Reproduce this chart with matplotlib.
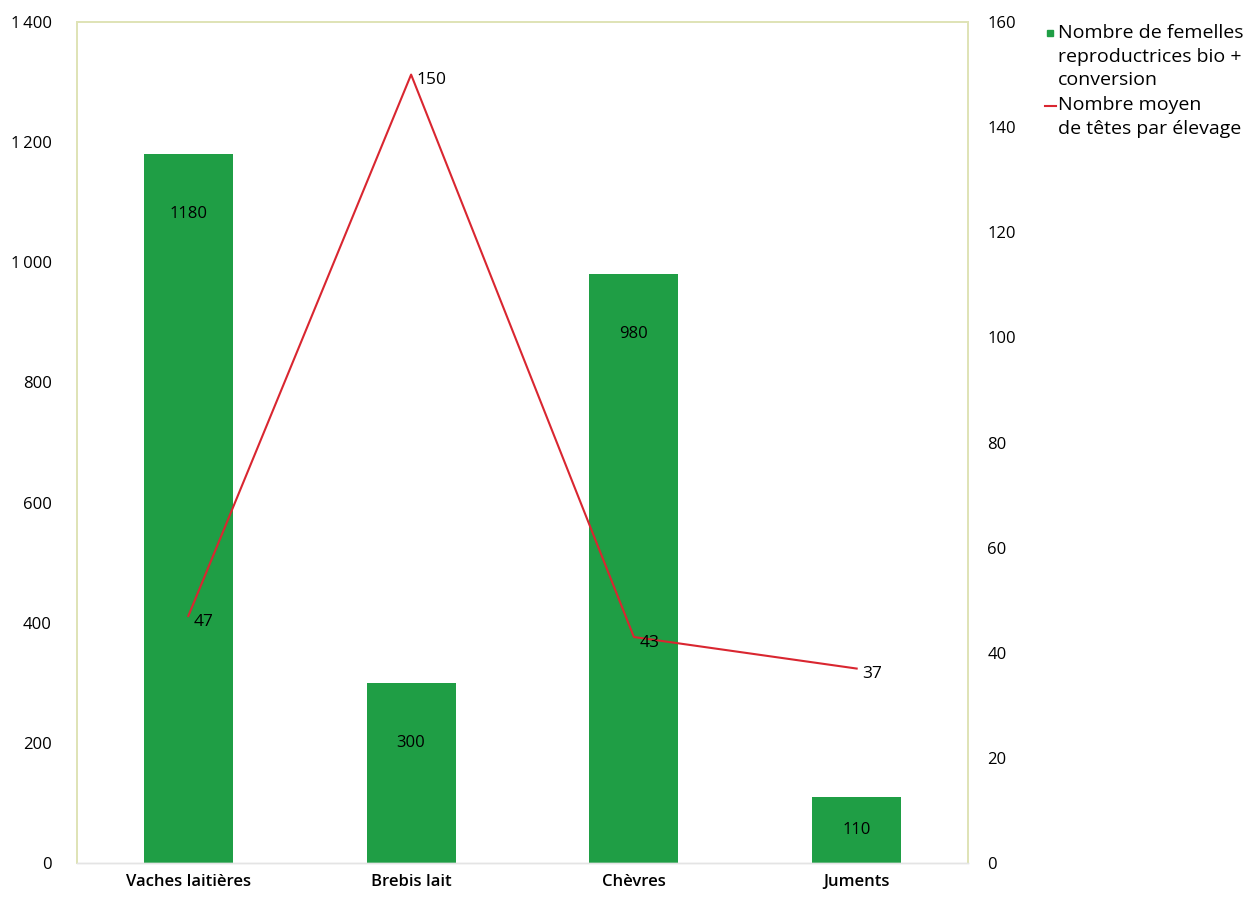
import matplotlib
matplotlib.use("Agg")
import matplotlib.pyplot as plt
from matplotlib.lines import Line2D

categories = ["Vaches laitières", "Brebis lait", "Chèvres", "Juments"]
femelles = [1180, 300, 980, 110]
moyenne = [47, 150, 43, 37]
left_ticks = [0, 200, 400, 600, 800, 1000, 1200, 1400]
left_labels = ["0", "200", "400", "600", "800", "1\u2009000", "1\u2009200", "1\u2009400"]
right_ticks = [0, 20, 40, 60, 80, 100, 120, 140, 160]

plt.rcParams['font.family'] = ['Open Sans', 'DejaVu Sans']

fig = plt.figure(figsize=(12.47, 8.99), dpi=100)
ax = fig.add_axes([0.0617, 0.04, 0.7146, 0.9355])
ax2 = ax.twinx()

x = list(range(len(categories)))
bar_color = '#1f9e45'
line_color = '#d92630'
frame = '#dfe3b5'

ax.bar(x, femelles, width=0.4, color=bar_color, zorder=2)
ax.set_xlim(-0.5, 3.5)
ax.set_ylim(0, 1400)
ax.set_yticks(left_ticks)
ax.set_yticklabels(left_labels)
ax.set_xticks(x)
ax.set_xticklabels(categories, fontsize=12, fontweight='semibold')
ax.tick_params(axis='both', length=0)
ax.tick_params(axis='y', labelsize=12, pad=18)
ax.tick_params(axis='x', pad=8)
for t in ax.get_yticklabels():
    t.set_fontweight('medium')

for xi, v in zip(x, femelles):
    ypos = v - 100 if v > 200 else v / 2
    ax.text(xi, ypos, str(v), ha='center', va='center', fontsize=12, zorder=5)

ax2.plot(x, moyenne, color=line_color, lw=1.5, zorder=4)
ax2.set_ylim(0, 160)
ax2.set_yticks(right_ticks)
ax2.tick_params(axis='y', length=0, labelsize=12, pad=14)
for t in ax2.get_yticklabels():
    t.set_fontweight('medium')
for xi, v in zip(x, moyenne):
    ax2.annotate(str(v), (xi, v), xytext=(4, -4), textcoords='offset points',
                 ha='left', va='center', fontsize=12.5, zorder=6)

for a in (ax, ax2):
    for s in ('top', 'left', 'right'):
        a.spines[s].set_color(frame)
        a.spines[s].set_linewidth(1.2)
    a.spines['bottom'].set_color('#e4e4e4')
    a.spines['bottom'].set_linewidth(1.0)

# Legend (drawn manually to match the reference layout)
W, H = 1247, 899
fig.add_artist(Line2D([1050 / W], [1 - 33 / H], marker='s', color='none',
                      markerfacecolor=bar_color, markeredgecolor=bar_color,
                      markersize=4.5, transform=fig.transFigure))
fig.add_artist(Line2D([1045 / W, 1056 / W], [1 - 106 / H, 1 - 106 / H],
                      color=line_color, lw=1.5, transform=fig.transFigure))
fig.text(1058 / W, 1 - 24 / H, "Nombre de femelles\nreproductrices bio +\nconversion",
         ha='left', va='top', fontsize=14, linespacing=1.4)
fig.text(1058 / W, 1 - 96 / H, "Nombre moyen\nde têtes par élevage",
         ha='left', va='top', fontsize=14, linespacing=1.4)

fig.savefig("out.png", dpi=100)
